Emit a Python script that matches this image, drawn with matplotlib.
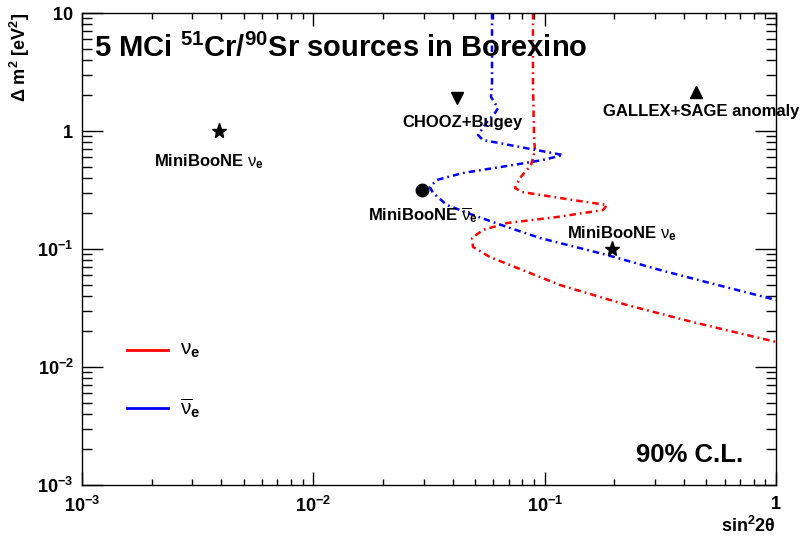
import matplotlib
matplotlib.use("Agg")
import matplotlib.pyplot as plt
from matplotlib.ticker import FixedLocator, LogLocator, NullFormatter
from matplotlib.lines import Line2D

plt.rcParams["font.family"] = ["Liberation Sans", "DejaVu Sans"]
plt.rcParams["mathtext.fontset"] = "custom"
plt.rcParams["mathtext.rm"] = "Liberation Sans"
plt.rcParams["mathtext.bf"] = "Liberation Sans:bold"
plt.rcParams["mathtext.it"] = "Liberation Sans:italic"

# 90% C.L. sensitivity contours (sin^2 2theta, dm^2 in eV^2)
nue_x = [0.0890, 0.0890, 0.0899, 0.0908, 0.0873, 0.0782, 0.0744, 0.0798, 0.1326, 0.186,
         0.1788, 0.1131, 0.0688, 0.0541, 0.0485, 0.0490, 0.0580, 0.0954, 0.1165, 0.227,
         0.438, 1.0]
nue_y = [10, 2.705, 0.890, 0.690, 0.515, 0.400, 0.329, 0.304, 0.260, 0.236,
         0.214, 0.1867, 0.166, 0.145, 0.124, 0.104, 0.0855, 0.0579, 0.0495, 0.0335,
         0.0240, 0.0163]

anue_x = [0.0592, 0.0592, 0.0586, 0.0629, 0.0610, 0.0563, 0.0515, 0.0541, 0.0782, 0.120,
          0.0984, 0.0730, 0.0444, 0.0342, 0.0319, 0.0329, 0.0378, 0.0490, 0.0688, 0.0954,
          0.186, 0.315, 0.518, 1.0]
anue_y = [10, 2.552, 1.942, 1.566, 1.420, 1.192, 0.925, 0.839, 0.732, 0.626,
          0.568, 0.515, 0.441, 0.385, 0.335, 0.2985, 0.236, 0.194, 0.1536, 0.124,
          0.089, 0.0664, 0.0515, 0.0370]

# best-fit points of other experiments
mb_nu_pts = ([0.0039, 0.195], [1.0, 0.0994])
mb_anu_pt = (0.0294, 0.316)
chooz_pt = (0.0417, 1.89)
gallex_pt = (0.451, 2.15)

fig = plt.figure(figsize=(8.02, 5.38), dpi=100)
ax = fig.add_axes([82 / 802, 53 / 538, 694 / 802, 472 / 538])
ax.set_xscale("log")
ax.set_yscale("log")
ax.set_xlim(1e-3, 1)
ax.set_ylim(1e-3, 10)

dashdot = (0, (2.6, 1.6, 0.7, 1.6))
ax.plot(nue_x, nue_y, color="red", lw=1.8, ls=dashdot)
ax.plot(anue_x, anue_y, color="blue", lw=1.8, ls=dashdot)

ax.plot(mb_nu_pts[0], mb_nu_pts[1], "*", color="black", ms=11, ls="none")
ax.plot(*mb_anu_pt, "o", color="black", ms=9)
ax.plot(*chooz_pt, "v", color="black", ms=8)
ax.plot(*gallex_pt, "^", color="black", ms=8)

nu = r"$\mathrm{\nu}_{\mathbf{e}}$"
anu = r"$\overline{\mathrm{\nu}}_{\mathbf{e}}$"
lab = dict(fontsize=12, fontweight="bold", ha="center", va="center")
ax.text(0.00355, 0.55, "MiniBooNE " + nu, **lab)
ax.text(0.0443, 1.17, "CHOOZ+Bugey", **lab)
ax.text(0.0298, 0.192, "MiniBooNE " + anu, **lab)
ax.text(0.215, 0.136, "MiniBooNE " + nu, **lab)
ax.text(0.179, 1.46, "GALLEX+SAGE anomaly", fontsize=12, fontweight="bold",
        ha="left", va="center", clip_on=False)

ax.text(0.018, 0.955, r"5 MCi $^{\mathbf{51}}$Cr/$^{\mathbf{90}}$Sr sources in Borexino",
        transform=ax.transAxes, fontsize=21, fontweight="bold", ha="left", va="top")
ax.text(0.876, 0.064, "90% C.L.", transform=ax.transAxes, fontsize=18.5,
        fontweight="bold", ha="center", va="center")

# legend drawn ROOT-style, no frame
ax.add_line(Line2D([0.065, 0.124], [0.286, 0.286], transform=ax.transAxes, color="red", lw=2))
ax.add_line(Line2D([0.065, 0.124], [0.163, 0.163], transform=ax.transAxes, color="blue", lw=2))
ax.text(0.141, 0.286, nu, transform=ax.transAxes, fontsize=15, va="center")
ax.text(0.141, 0.163, anu, transform=ax.transAxes, fontsize=15, va="center")

xt = [1e-3, 1e-2, 1e-1, 1]
xtl = [r"$\mathbf{10^{-3}}$", r"$\mathbf{10^{-2}}$", r"$\mathbf{10^{-1}}$", r"$\mathbf{1}$"]
yt = [1e-3, 1e-2, 1e-1, 1, 10]
ytl = [r"$\mathbf{10^{-3}}$", r"$\mathbf{10^{-2}}$", r"$\mathbf{10^{-1}}$", r"$\mathbf{1}$", r"$\mathbf{10}$"]
ax.xaxis.set_major_locator(FixedLocator(xt))
ax.set_xticklabels(xtl)
ax.yaxis.set_major_locator(FixedLocator(yt))
ax.set_yticklabels(ytl)
ax.xaxis.set_minor_locator(LogLocator(subs=range(2, 10)))
ax.yaxis.set_minor_locator(LogLocator(subs=range(2, 10)))
ax.xaxis.set_minor_formatter(NullFormatter())
ax.yaxis.set_minor_formatter(NullFormatter())

ax.tick_params(axis="both", which="both", direction="in", top=True, right=True,
               labelsize=13, width=1)
ax.tick_params(axis="x", which="major", length=9.5, pad=8)
ax.tick_params(axis="x", which="minor", length=4.5)
ax.tick_params(axis="y", which="major", length=15, pad=6)
ax.tick_params(axis="y", which="minor", length=7.5)
for s in ax.spines.values():
    s.set_linewidth(1)

ax.set_xlabel(r"$\mathbf{sin^{2}2\theta}$", fontsize=13, loc="right", labelpad=0)
ax.set_ylabel(r"$\mathbf{\Delta\ m^{2}\ [eV^{2}]}$", fontsize=13, loc="top", labelpad=4)

fig.savefig("out.png", dpi=100)
